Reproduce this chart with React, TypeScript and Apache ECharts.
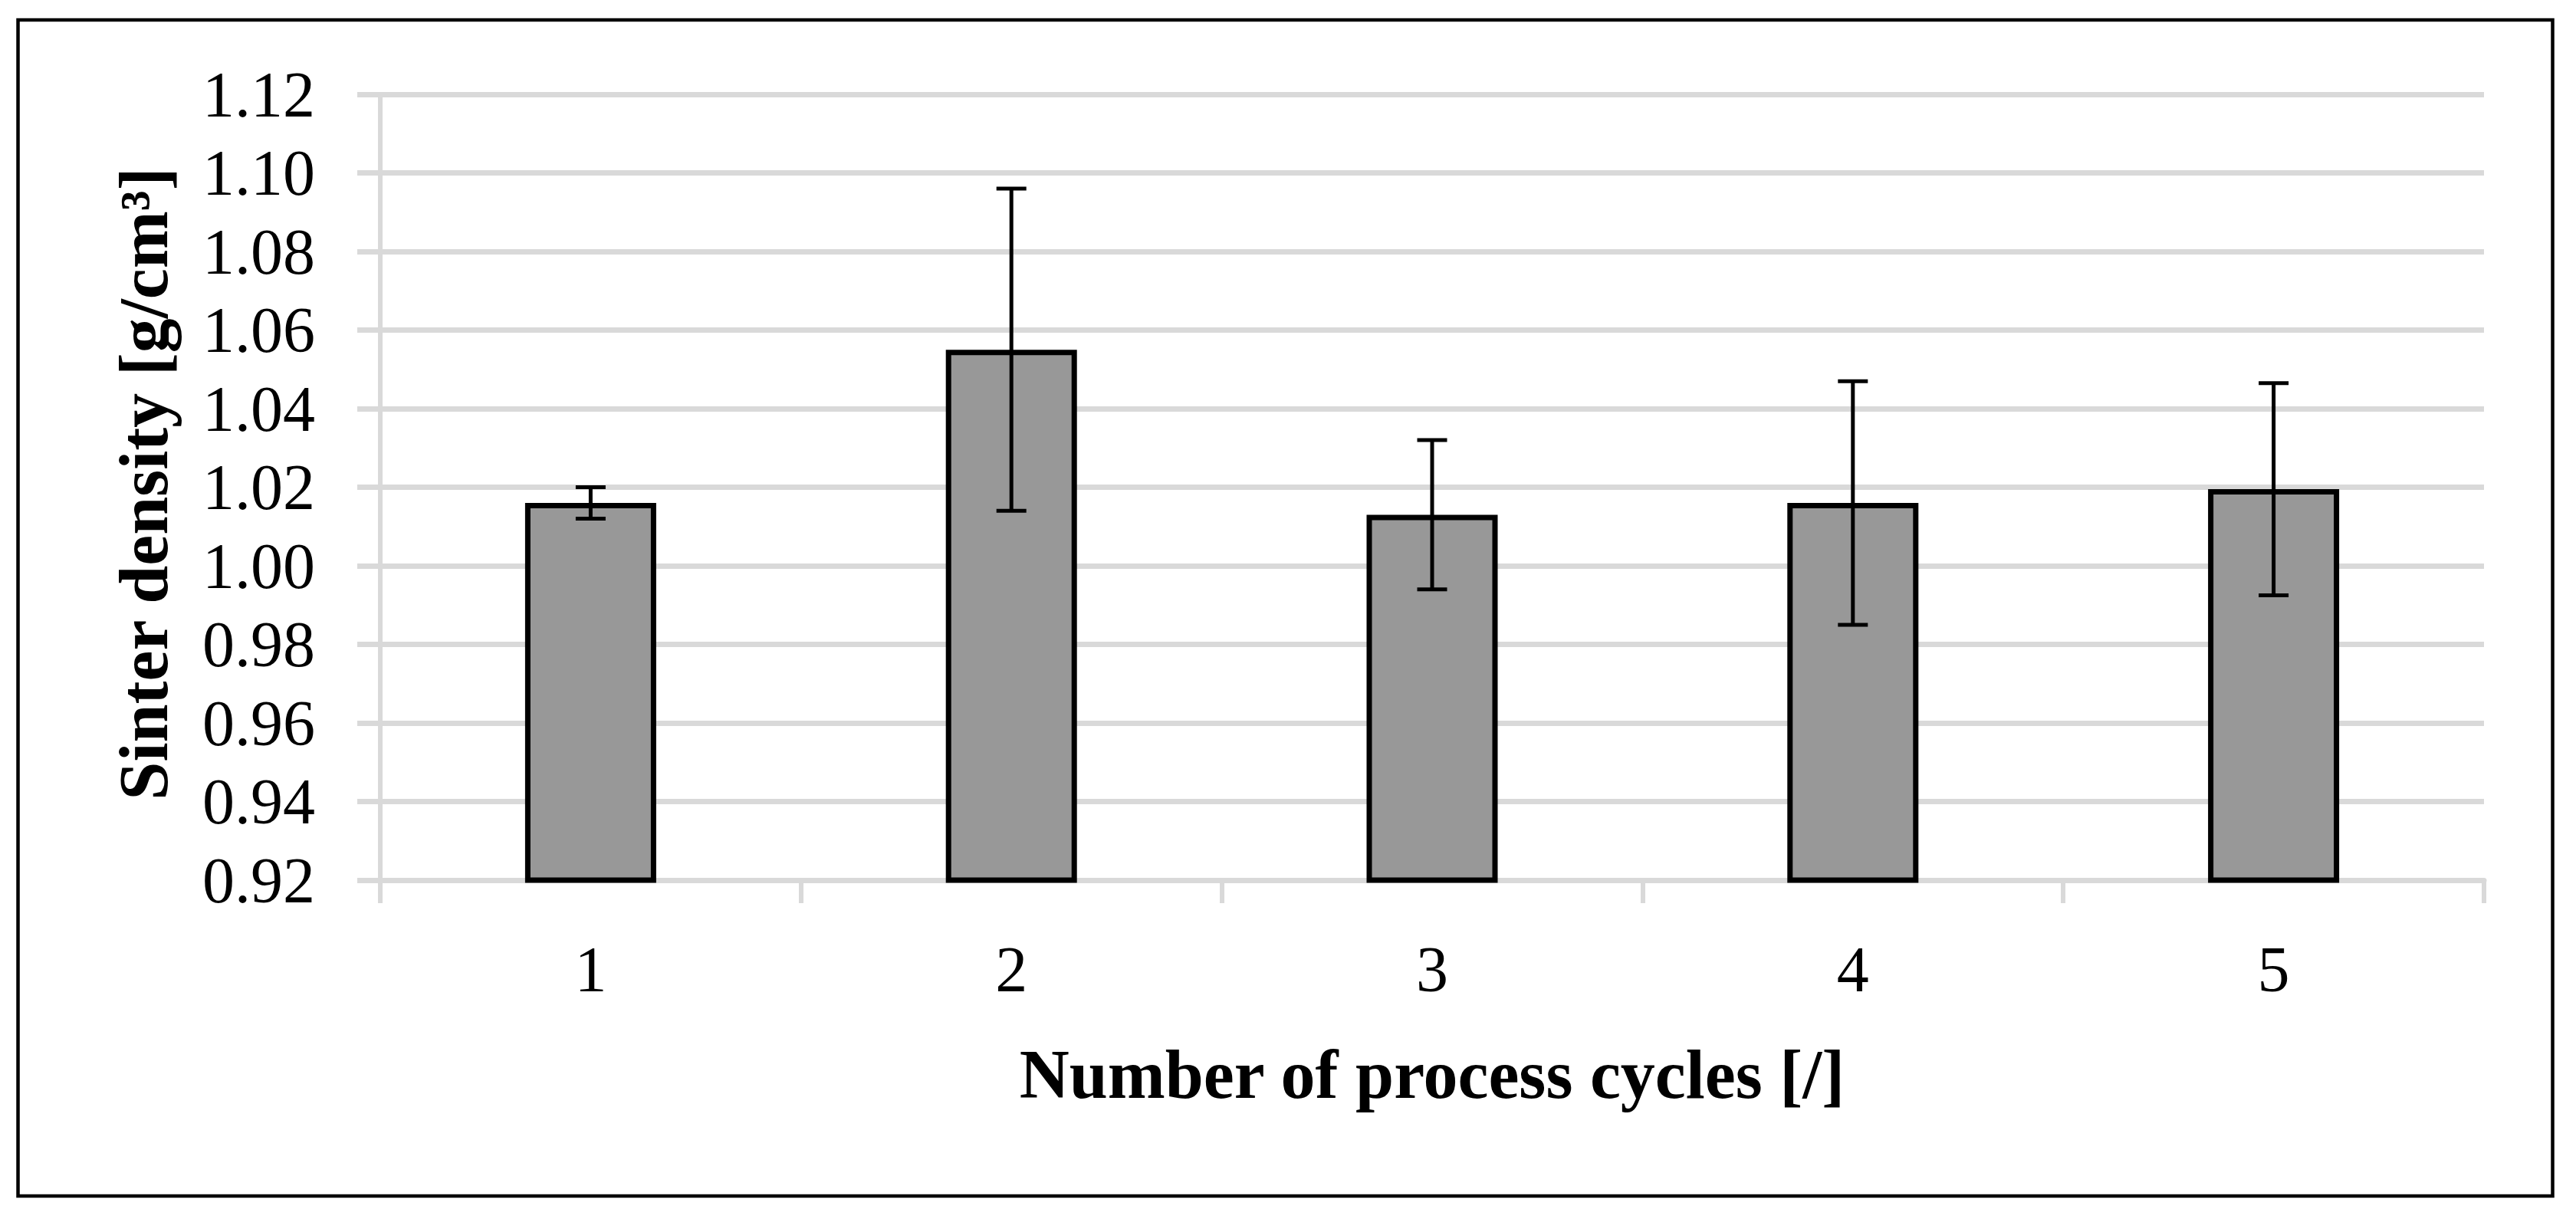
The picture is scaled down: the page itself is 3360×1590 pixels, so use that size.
import React, { useEffect, useRef } from "react";
import * as echarts from "echarts";

const categories = ["1", "2", "3", "4", "5"];
const densityMeans = [1.016, 1.055, 1.013, 1.016, 1.0195];
const densityErrors = [0.004, 0.041, 0.019, 0.031, 0.027];
const yMin = 0.92;
const yMax = 1.12;
const yStep = 0.02;
const xTitle = "Number of process cycles [/]";
const yTitle = "Sinter density [g/cm³]";

export default function App() {
  const ref = useRef<HTMLDivElement>(null);
  useEffect(() => {
    if (!ref.current) return;
    const chart = echarts.init(ref.current, null, { renderer: "svg" });
    const font = "'Liberation Serif', 'DejaVu Serif', serif";
    const grey = "#d9d9d9";
    const errData = categories.map((_, i) => [
      i,
      densityMeans[i] - densityErrors[i],
      densityMeans[i] + densityErrors[i],
    ]);
    chart.setOption({
      animation: false,
      backgroundColor: "#ffffff",
      grid: { left: 496, right: 120, top: 123, bottom: 442 },
      xAxis: {
        type: "category",
        data: categories,
        boundaryGap: true,
        axisLine: { show: true, lineStyle: { color: grey, width: 7 } },
        axisTick: { show: true, length: 30, alignWithLabel: false, lineStyle: { color: grey, width: 6 } },
        axisLabel: { margin: 74, fontFamily: font, fontSize: 84, color: "#000" },
        splitLine: { show: false },
      },
      yAxis: {
        type: "value",
        min: yMin,
        max: yMax,
        interval: yStep,
        axisLine: { show: true, lineStyle: { color: grey, width: 6 } },
        axisTick: { show: true, length: 30, lineStyle: { color: grey, width: 7 } },
        axisLabel: {
          margin: 85,
          fontFamily: font,
          fontSize: 84,
          color: "#000",
          formatter: (v: number) => v.toFixed(2),
        },
        splitLine: { show: true, lineStyle: { color: grey, width: 7 } },
      },
      series: [
        {
          type: "bar",
          data: densityMeans,
          barWidth: 171,
          itemStyle: { color: "#989898", borderColor: "#000", borderWidth: 7 },
          z: 2,
        },
        {
          type: "custom",
          data: errData,
          z: 3,
          renderItem: (params: any, api: any) => {
            const x = api.value(0);
            const lo = api.coord([x, api.value(1)]);
            const hi = api.coord([x, api.value(2)]);
            const cap = 19.5;
            const style = { stroke: "#000", lineWidth: 5 };
            return {
              type: "group",
              children: [
                { type: "line", shape: { x1: hi[0], y1: hi[1], x2: lo[0], y2: lo[1] }, style },
                { type: "line", shape: { x1: hi[0] - cap, y1: hi[1], x2: hi[0] + cap, y2: hi[1] }, style },
                { type: "line", shape: { x1: lo[0] - cap, y1: lo[1], x2: lo[0] + cap, y2: lo[1] }, style },
              ],
            };
          },
        },
      ],
      graphic: [
        {
          type: "rect",
          shape: { x: 23.5, y: 26, width: 3306, height: 1534 },
          style: { fill: "none", stroke: "#000", lineWidth: 4.5 },
          silent: true,
        },
        {
          type: "text",
          x: 1868,
          y: 1401,
          style: {
            text: xTitle,
            fontFamily: font,
            fontWeight: "bold",
            fontSize: 90,
            fill: "#000",
            align: "center",
            verticalAlign: "middle",
          },
        },
        {
          type: "text",
          x: 187,
          y: 631,
          rotation: Math.PI / 2,
          style: {
            text: yTitle,
            fontFamily: font,
            fontWeight: "bold",
            fontSize: 90,
            fill: "#000",
            align: "center",
            verticalAlign: "middle",
          },
        },
      ],
    });
    return () => chart.dispose();
  }, []);
  return (
    <div
      ref={ref}
      style={{ position: "fixed", left: 0, top: 0, width: 3360, height: 1590, background: "#fff" }}
    />
  );
}
